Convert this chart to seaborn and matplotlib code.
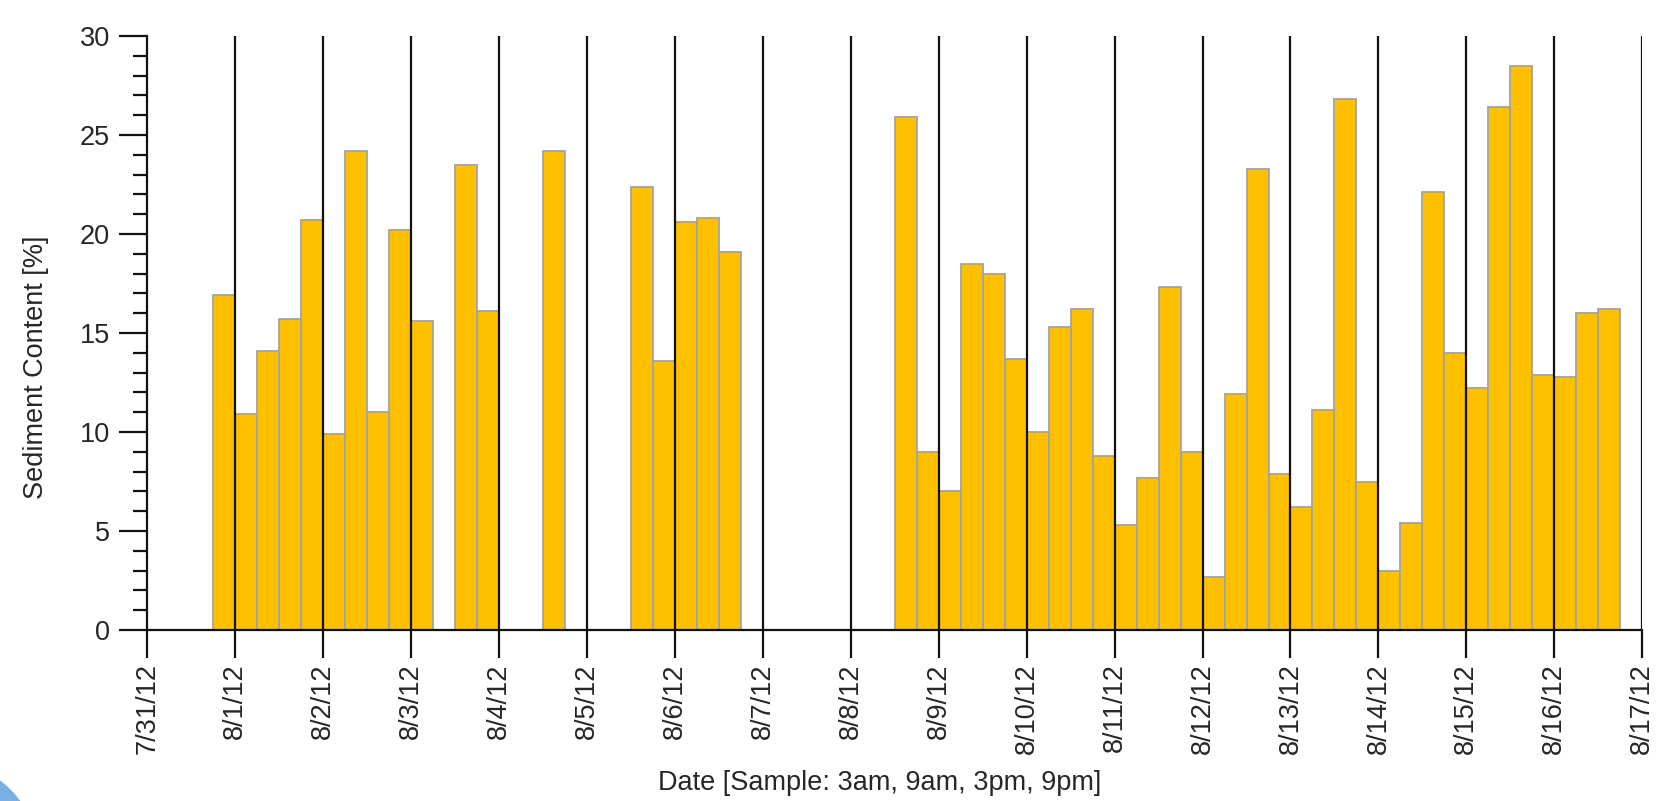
import numpy as np
import pandas as pd
import matplotlib
matplotlib.use("Agg")
import matplotlib.pyplot as plt
import matplotlib.patches as mpatches
from matplotlib.ticker import MultipleLocator
import seaborn as sns

# Sampling slots within a day: 3am, 9am, 3pm, 9pm
sample_times = [
    "2012-07-31 21:00",
    "2012-08-01 03:00", "2012-08-01 09:00", "2012-08-01 15:00", "2012-08-01 21:00",
    "2012-08-02 03:00", "2012-08-02 09:00", "2012-08-02 15:00", "2012-08-02 21:00",
    "2012-08-03 03:00", "2012-08-03 15:00", "2012-08-03 21:00",
    "2012-08-04 15:00",
    "2012-08-05 15:00", "2012-08-05 21:00",
    "2012-08-06 03:00", "2012-08-06 09:00", "2012-08-06 15:00",
    "2012-08-08 15:00", "2012-08-08 21:00",
    "2012-08-09 03:00", "2012-08-09 09:00", "2012-08-09 15:00", "2012-08-09 21:00",
    "2012-08-10 03:00", "2012-08-10 09:00", "2012-08-10 15:00", "2012-08-10 21:00",
    "2012-08-11 03:00", "2012-08-11 09:00", "2012-08-11 15:00", "2012-08-11 21:00",
    "2012-08-12 03:00", "2012-08-12 09:00", "2012-08-12 15:00", "2012-08-12 21:00",
    "2012-08-13 03:00", "2012-08-13 09:00", "2012-08-13 15:00", "2012-08-13 21:00",
    "2012-08-14 03:00", "2012-08-14 09:00", "2012-08-14 15:00", "2012-08-14 21:00",
    "2012-08-15 03:00", "2012-08-15 09:00", "2012-08-15 15:00", "2012-08-15 21:00",
    "2012-08-16 03:00", "2012-08-16 09:00", "2012-08-16 15:00",
]

sediment_pct = [
    16.9,
    10.9, 14.1, 15.7, 20.7,
    9.9, 24.2, 11.0, 20.2,
    15.6, 23.5, 16.1,
    24.2,
    22.4, 13.6,
    20.6, 20.8, 19.1,
    25.9, 9.0,
    7.0, 18.5, 18.0, 13.7,
    10.0, 15.3, 16.2, 8.8,
    5.3, 7.7, 17.3, 9.0,
    2.7, 11.9, 23.3, 7.9,
    6.2, 11.1, 26.8, 7.5,
    3.0, 5.4, 22.1, 14.0,
    12.2, 26.4, 28.5, 12.9,
    12.8, 16.0, 16.2,
]

day_labels = ["7/31/12", "8/1/12", "8/2/12", "8/3/12", "8/4/12", "8/5/12",
              "8/6/12", "8/7/12", "8/8/12", "8/9/12", "8/10/12", "8/11/12",
              "8/12/12", "8/13/12", "8/14/12", "8/15/12", "8/16/12", "8/17/12"]

start = pd.Timestamp("2012-07-31 00:00")
times = pd.to_datetime(sample_times)
df = pd.DataFrame({
    "day": (times - start) / pd.Timedelta(days=1),
    "sediment": sediment_pct,
})

sns.set_theme(style="white")
plt.rcParams["font.family"] = ["Liberation Sans", "DejaVu Sans"]

fig = plt.figure(figsize=(16.61, 8.01), dpi=100)
ax = fig.add_axes([0.0887, 0.2135, 0.9, 0.7415])

sns.barplot(data=df, x="day", y="sediment", native_scale=True, width=1.0,
            color="#FFC000", saturation=1, edgecolor="#A3A3A3", linewidth=1.3,
            errorbar=None, ax=ax, zorder=2)

# day separators
n_days = len(day_labels)
ax.vlines(np.arange(1, n_days), 0, 30, color="#111111", linewidth=1.6, zorder=3)

ax.set_xlim(0, n_days - 1)
ax.set_ylim(0, 30)
ax.set_xticks(np.arange(n_days))
ax.set_xticklabels(day_labels, rotation=90, fontsize=19.5)
ax.yaxis.set_major_locator(MultipleLocator(5))
ax.yaxis.set_minor_locator(MultipleLocator(1))
ax.tick_params(axis="y", which="major", direction="out", length=20, width=1.6,
               pad=7, labelsize=19.5, left=True, color="#111111")
ax.tick_params(axis="y", which="minor", direction="out", length=10, width=1.6,
               left=True, color="#111111")
ax.tick_params(axis="x", which="major", direction="out", length=20, width=1.6,
               pad=4, bottom=True, color="#111111")

for side in ["top", "right"]:
    ax.spines[side].set_visible(False)
for side in ["left", "bottom"]:
    ax.spines[side].set_color("#111111")
    ax.spines[side].set_linewidth(1.6)
    ax.spines[side].set_zorder(4)

ax.set_ylabel("Sediment Content [%]", fontsize=19.5)
ax.set_xlabel("Date [Sample: 3am, 9am, 3pm, 9pm]", fontsize=19.5)
ax.yaxis.set_label_coords(-0.066, 0.443)
ax.xaxis.set_label_coords(0.490, -0.236)

# decorative corner shape
fig.patches.append(mpatches.Ellipse((-60 / 1661, -59 / 801), 2 * 99 / 1661, 2 * 99 / 801,
                                    transform=fig.transFigure, color="#7AAFE4",
                                    zorder=0))

fig.savefig("out.png", dpi=100)
